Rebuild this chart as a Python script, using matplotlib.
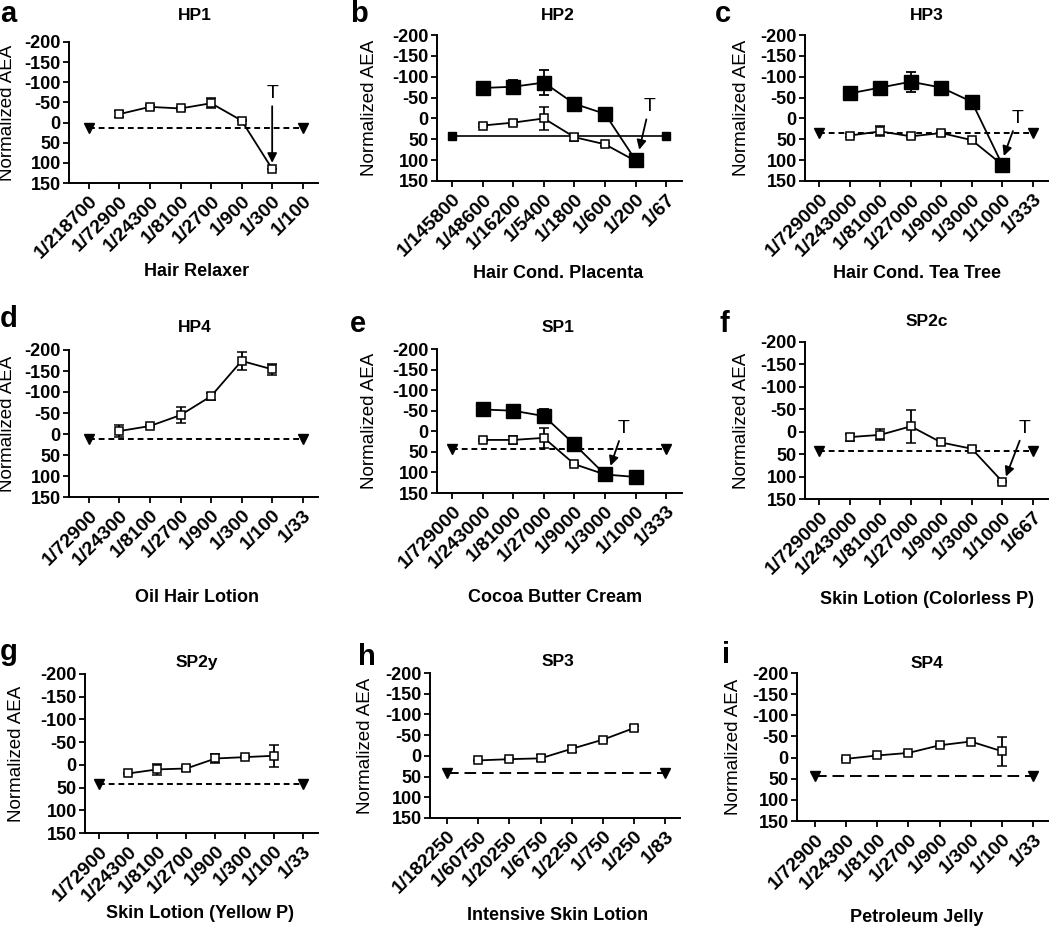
import matplotlib
matplotlib.use("Agg")
import numpy as np
from matplotlib import pyplot as plt

plt.rcParams["font.family"] = ["Liberation Sans", "DejaVu Sans"]
plt.rcParams["axes.unicode_minus"] = False

W, H = 1050, 927
nan = np.nan

# dilution series (x categories)
dil_a = ["1/218700", "1/72900", "1/24300", "1/8100", "1/2700", "1/900", "1/300", "1/100"]
dil_b = ["1/145800", "1/48600", "1/16200", "1/5400", "1/1800", "1/600", "1/200", "1/67"]
dil_c = ["1/729000", "1/243000", "1/81000", "1/27000", "1/9000", "1/3000", "1/1000", "1/333"]
dil_d = ["1/72900", "1/24300", "1/8100", "1/2700", "1/900", "1/300", "1/100", "1/33"]
dil_f = ["1/729000", "1/243000", "1/81000", "1/27000", "1/9000", "1/3000", "1/1000", "1/667"]
dil_h = ["1/182250", "1/60750", "1/20250", "1/6750", "1/2250", "1/750", "1/250", "1/83"]

# normalized AEA, open squares / filled squares, with SEM
a_open = [nan, -21, -39, -35, -48, -5, 115, nan]
a_open_err = [0, 7, 5, 3, 13, 2, 0, 0]
a_ref = 14

b_filled = [nan, -73, -76, -86, -35, -11, 100, nan]
b_filled_err = [0, 3, 17, 30, 4, 4, 5, 0]
b_open = [nan, 17, 10, 0, 45, 62, 102, nan]
b_open_err = [0, 4, 6, 28, 8, 3, 3, 0]
b_ref = 42

c_filled = [nan, -60, -74, -88, -74, -40, 111, nan]
c_filled_err = [0, 3, 12, 24, 6, 3, 3, 0]
c_open = [nan, 41, 31, 43, 35, 52, 111, nan]
c_open_err = [0, 4, 12, 3, 6, 3, 0, 0]
c_ref = 34

d_open = [nan, -7, -19, -45, -90, -174, -154, nan]
d_open_err = [0, 14, 3, 19, 8, 21, 13, 0]
d_ref = 13

e_filled = [nan, -53, -50, -37, 32, 105, 111, nan]
e_filled_err = [0, 4, 4, 17, 4, 3, 3, 0]
e_open = [nan, 21, 21, 16, 80, 105, nan, nan]
e_open_err = [0, 2, 10, 24, 2, 0, 0, 0]
e_ref = 43

f_open = [nan, 12, 7, -12, 24, 38, 111, nan]
f_open_err = [0, 8, 12, 37, 6, 5, 2, 0]
f_ref = 43

g_open = [nan, 19, 10, 8, -14, -17, -20, nan]
g_open_err = [0, 2, 12, 6, 10, 2, 24, 0]
g_ref = 43

h_open = [nan, 11, 8, 6, -17, -39, -67, nan]
h_open_err = [0, 2, 3, 7, 8, 2, 5, 0]
h_ref = 41

i_open = [nan, 3, -5, -11, -29, -38, -15, nan]
i_open_err = [0, 2, 2, 2, 2, 2, 34, 0]
i_ref = 43


def fx(x):
    return x / W


def fy(y):
    return 1 - y / H


def panel(box, xpad, dil, letter, letter_xy, title, title_xy, xlabel, xlabel_xy, ylabel_x,
          open_v, open_e, ref, ref_style, filled_v=None, filled_e=None, tox=None):
    l, t, r, b = box
    ax = fig.add_axes([fx(l), fy(b), (r - l) / W, (b - t) / H])
    x = np.arange(len(dil))

    # control line
    if ref_style == "solid":
        ax.plot([x[0], x[-1]], [ref, ref], "-", color="k", lw=1.2, marker="s", ms=5.5)
    else:
        ax.plot([x[0], x[-1]], [ref, ref], color="k", lw=1.4, ls=ref_style, marker="v", ms=6.5)

    if filled_v is not None:
        ax.errorbar(x, filled_v, yerr=filled_e, fmt="-s", color="k", mfc="k", mec="k", ms=9.5,
                    lw=1.3, elinewidth=1.3, capsize=3.5, capthick=1.3, zorder=4)
    ax.errorbar(x, open_v, yerr=open_e, fmt="-s", color="k", mfc="white", mec="k", ms=5.5,
                mew=1.1, lw=1.3, elinewidth=1.3, capsize=3.5, capthick=1.3, zorder=3)

    if tox is not None:
        (tx, ty), (px, py) = tox
        ax.annotate("T", xy=(px, py), xytext=(tx, ty), ha="center", va="center", fontsize=14,
                    arrowprops=dict(arrowstyle="-|>", color="k", lw=1.3, mutation_scale=14,
                                    shrinkA=1, shrinkB=0), zorder=5)

    ax.set_xlim(-xpad[0], len(dil) - 1 + xpad[1])
    ax.set_ylim(150, -200)
    ax.set_yticks(np.arange(-200, 151, 50))
    ax.set_yticklabels([str(v) for v in np.arange(-200, 151, 50)], fontsize=13, fontweight="bold")
    ax.set_xticks(x)
    ax.set_xticklabels(dil, rotation=45, ha="right", rotation_mode="anchor",
                       fontsize=14, fontweight="bold")
    ax.tick_params(direction="out", length=4, width=1.3, pad=2)
    ax.tick_params(axis="x", pad=3)
    for s in ["top", "right"]:
        ax.spines[s].set_visible(False)
    for s in ["left", "bottom"]:
        ax.spines[s].set_linewidth(1.4)

    fig.text(fx(letter_xy[0]), fy(letter_xy[1]), letter, fontsize=21, fontweight="bold",
             ha="left", va="baseline")
    fig.text(fx(title_xy[0]), fy(title_xy[1]), title, fontsize=12.5, fontweight="bold",
             ha="center", va="center")
    fig.text(fx(xlabel_xy[0]), fy(xlabel_xy[1]), xlabel, fontsize=13, fontweight="bold",
             ha="center", va="center")
    fig.text(fx(ylabel_x), fy((t + b) / 2), "Normalized AEA", fontsize=13.5, rotation=90,
             ha="center", va="center")
    return ax


fig = plt.figure(figsize=(10.5, 9.27), dpi=100)

panel((69, 42, 318, 183), (0.65, 0.5), dil_a, "a", (0, 22), "HP1", (195, 16),
      "Hair Relaxer", (197, 272), 8, a_open, a_open_err, a_ref, (0, (3, 2)),
      tox=((6, -72), (6, 100)))
panel((437, 35, 682, 181), (0.5, 0.52), dil_b, "b", (350, 22), "HP2", (558, 16),
      "Hair Cond. Placenta", (558, 273), 370, b_open, b_open_err, b_ref, "solid",
      b_filled, b_filled_err, tox=((6.45, -28), (6.12, 75)))
panel((805, 35, 1048, 181), (0.47, 0.5), dil_c, "c", (715, 22), "HP3", (927, 16),
      "Hair Cond. Tea Tree", (917, 273), 741, c_open, c_open_err, c_ref, (0, (3, 2)),
      c_filled, c_filled_err, tox=((6.5, 0), (6.05, 90)))
panel((69, 350, 318, 497), (0.65, 0.5), dil_d, "d", (0, 327), "HP4", (195, 328),
      "Oil Hair Lotion", (197, 598), 8, d_open, d_open_err, d_ref, (0, (3, 2)))
panel((437, 349, 682, 493), (0.5, 0.52), dil_c, "e", (350, 332), "SP1", (558, 328),
      "Cocoa Butter Cream", (555, 598), 370, e_open, e_open_err, e_ref, (0, (3, 2)),
      e_filled, e_filled_err, tox=((5.6, -7), (5.18, 84)))
panel((805, 342, 1048, 499), (0.47, 0.5), dil_f, "f", (720, 332), "SP2c", (927, 322),
      "Skin Lotion (Colorless P)", (927, 600), 741, f_open, f_open_err, f_ref, (0, (3, 2)),
      tox=((6.73, -8), (6.12, 100)))
panel((85, 674, 318, 833), (0.48, 0.52), dil_d, "g", (0, 660), "SP2y", (197, 662),
      "Skin Lotion (Yellow P)", (200, 913), 17, g_open, g_open_err, g_ref, (0, (3, 2)))
panel((430, 673, 680, 818), (0.55, 0.48), dil_h, "h", (358, 665), "SP3", (558, 662),
      "Intensive Skin Lotion", (558, 915), 365, h_open, h_open_err, h_ref, (0, (6, 3)))
panel((797, 673, 1048, 821), (0.58, 0.48), dil_d, "i", (722, 663), "SP4", (927, 663),
      "Petroleum Jelly", (917, 917), 733, i_open, i_open_err, i_ref, (0, (6, 3)))

fig.savefig("out.png", dpi=100)
